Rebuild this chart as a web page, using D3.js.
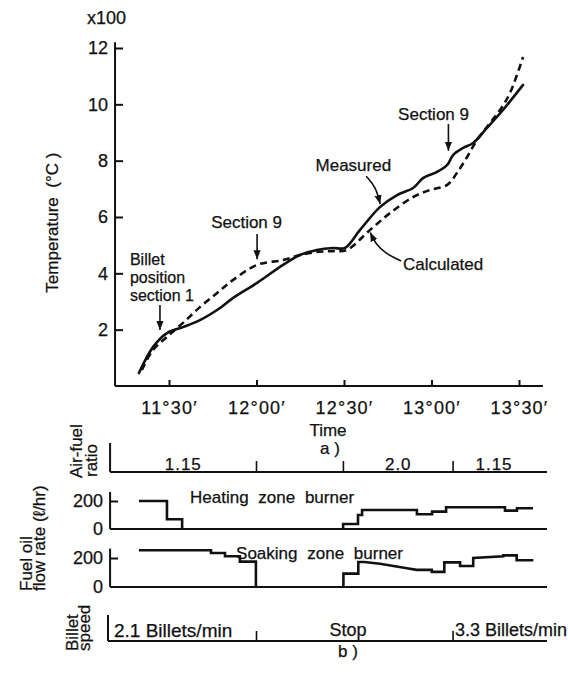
<!DOCTYPE html>
<html>
<head>
<meta charset="utf-8">
<script src="https://cdn.jsdelivr.net/npm/d3@7"></script>
<style>
  html, body { margin: 0; padding: 0; background: #fff; }
  svg { display: block; font-family: "Liberation Sans", Arial, sans-serif; }
  svg text { stroke: #111; stroke-width: 0.25px; }
</style>
</head>
<body>
<svg id="chart" width="568" height="673"></svg>
<script>
// Time is given in minutes after 11:00.
const timeTicks = [30, 60, 90, 120, 150];
const tempTicks = [2, 4, 6, 8, 10, 12];           // x100 °C

// Billet temperature (x100 °C)
const measured = [
  [19.7, 0.46], [24.5, 1.38], [29.3, 1.88], [34.8, 2.09], [40.6, 2.34], [47.5, 2.77],
  [51.9, 3.12], [60.2, 3.66], [69.1, 4.30], [74.9, 4.65], [80.7, 4.83], [86.2, 4.90],
  [90.3, 4.90], [95.5, 5.54], [102.3, 6.35], [108.2, 6.78], [113.7, 7.03], [117.1, 7.38],
  [121.9, 7.60], [125.4, 7.85], [127.4, 8.20], [130.8, 8.45], [134.3, 8.63], [139.0, 9.16],
  [144.5, 9.80], [151.4, 10.69]
];
const calculated = [
  [20.7, 0.57], [24.5, 1.28], [29.3, 1.74], [34.8, 2.24], [40.6, 2.80], [46.5, 3.30],
  [51.9, 3.76], [60.2, 4.30], [69.1, 4.47], [74.9, 4.65], [80.7, 4.76], [86.2, 4.79],
  [91.0, 4.83], [98.9, 5.54], [105.8, 6.14], [113.7, 6.71], [119.5, 6.96], [125.4, 7.14],
  [128.7, 7.56], [132.2, 8.13], [135.6, 8.73], [140.1, 9.34], [143.5, 9.80], [146.9, 10.40],
  [151.4, 11.68]
];

// Fuel oil flow rate (l/hr), stepwise
const heatingBefore = [[19.7, 200], [29.3, 200], [29.3, 70], [34.5, 70], [34.5, 0]];
const heatingAfter = [
  [89.7, 0], [89.7, 36], [94.8, 36], [94.8, 100], [96.2, 100], [96.2, 136], [115.0, 136],
  [115.0, 105], [120.2, 105], [120.2, 124], [125.0, 124], [125.0, 155], [145.2, 155],
  [145.2, 131], [149.3, 131], [149.3, 148], [154.8, 148]
];
const soakingBefore = [
  [19.7, 253], [44.4, 253], [44.4, 235], [49.2, 235], [49.2, 212], [54.3, 212],
  [54.3, 175], [59.8, 175], [59.8, 0]
];
const soakingAfter = [
  [89.8, 0], [89.8, 92], [94.9, 92], [94.9, 172], [97.0, 172], [102.3, 160], [107.5, 143],
  [112.1, 127], [114.9, 118], [120.1, 118], [120.1, 104], [124.4, 104], [124.4, 170],
  [129.8, 170], [129.8, 145], [134.3, 145], [134.3, 200], [144.6, 212], [144.6, 218],
  [149.2, 218], [149.2, 184], [154.9, 184]
];
const flowTicks = [0, 200];

// Air-fuel ratio periods and billet speed periods
const airFuelBreaks = [60, 89.8, 127.4];
const airFuelSpans = [[9.8, 60, "1.15"], [89.8, 127.4, "2.0"], [127.4, 159.6, "1.15"]];
const speedBreaks = [60, 127.4];

const ink = "#111";
const svg = d3.select("#chart");
svg.append("rect").attr("width", 568).attr("height", 673).attr("fill", "#fff");

const x = d3.scaleLinear().domain([30, 150]).range([169, 519]);
const y = d3.scaleLinear().domain([0, 12]).range([386, 48]);

const fmtTime = t => `${11 + Math.floor(t / 60)}°${String(t % 60).padStart(2, "0")}′`;

svg.append("defs").append("marker")
  .attr("id", "head").attr("viewBox", "0 0 10 8")
  .attr("refX", 10).attr("refY", 4)
  .attr("markerWidth", 9).attr("markerHeight", 8)
  .attr("markerUnits", "userSpaceOnUse").attr("orient", "auto")
  .append("path").attr("d", "M0,0L10,4L0,8Z").attr("fill", ink);

// ---------- a) temperature panel ----------
const panelA = svg.append("g");

panelA.append("line")
  .attr("x1", x(11.5)).attr("x2", x(11.5))
  .attr("y1", y(0)).attr("y2", y(12.2))
  .attr("stroke", ink).attr("stroke-width", 2);
panelA.append("line")
  .attr("x1", x(11.5)).attr("x2", x(158.2))
  .attr("y1", y(0)).attr("y2", y(0))
  .attr("stroke", ink).attr("stroke-width", 2);

const yAxis = panelA.append("g")
  .attr("transform", `translate(${x(11.5)},0)`)
  .call(d3.axisLeft(y).tickValues(tempTicks).tickSize(-8).tickPadding(7));
yAxis.select(".domain").remove();
yAxis.selectAll("line").attr("stroke", ink).attr("stroke-width", 2);
yAxis.selectAll("text").attr("font-size", 18).attr("fill", ink)
  .attr("font-family", "\"Liberation Sans\", Arial, sans-serif");

const xAxis = panelA.append("g")
  .attr("transform", `translate(0,${y(0)})`)
  .call(d3.axisBottom(x).tickValues(timeTicks).tickFormat(fmtTime).tickSize(-6).tickPadding(15));
xAxis.select(".domain").remove();
xAxis.selectAll("line").attr("stroke", ink).attr("stroke-width", 2);
xAxis.selectAll("text").attr("font-size", 18).attr("fill", ink).attr("letter-spacing", 1.2)
  .attr("font-family", "\"Liberation Sans\", Arial, sans-serif");

panelA.append("text").attr("x", 87).attr("y", 24).attr("font-size", 18).attr("fill", ink).text("x100");

panelA.append("text")
  .attr("transform", `translate(58,${y(5.8)}) rotate(-90)`)
  .attr("text-anchor", "middle").attr("font-size", 17).attr("fill", ink)
  .attr("xml:space", "preserve")
  .text("Temperature  (°C )");

panelA.append("text").attr("x", 328).attr("y", 436).attr("text-anchor", "middle")
  .attr("font-size", 17).attr("fill", ink).text("Time");
panelA.append("text").attr("x", 330).attr("y", 454).attr("text-anchor", "middle")
  .attr("font-size", 17).attr("fill", ink).attr("xml:space", "preserve").text("a )");

const curve = d3.line()
  .x(d => x(d[0])).y(d => y(d[1]))
  .curve(d3.curveCatmullRom.alpha(0.5));

panelA.append("path").datum(calculated).attr("d", curve)
  .attr("fill", "none").attr("stroke", ink).attr("stroke-width", 2.6)
  .attr("stroke-dasharray", "7,4.5");
panelA.append("path").datum(measured).attr("d", curve)
  .attr("fill", "none").attr("stroke", ink).attr("stroke-width", 2.6)
  .attr("stroke-linecap", "round");

// annotations (positions in time / temperature units)
const note = (t, v, s, anchor, size) => panelA.append("text")
  .attr("x", x(t)).attr("y", y(v)).attr("text-anchor", anchor || "start")
  .attr("font-size", size || 17).attr("fill", ink).text(s);
const arrow = pts => panelA.append("path")
  .attr("d", d3.line().x(d => x(d[0])).y(d => y(d[1])).curve(d3.curveBasis)(pts))
  .attr("fill", "none").attr("stroke", ink).attr("stroke-width", 1.6)
  .attr("marker-end", "url(#head)");

note(16.6, 4.29, "Billet", "start", 16);
note(16.6, 3.66, "position", "start", 16);
note(16.6, 3.02, "section 1", "start", 16);
arrow([[26.9, 2.88], [26.9, 1.99]]);

note(56.6, 5.61, "Section 9", "middle");
arrow([[60.2, 5.40], [60.2, 4.50]]);

note(120.7, 9.44, "Section 9", "middle");
arrow([[125.8, 9.30], [125.8, 8.35]]);

note(93.2, 7.63, "Measured", "middle");
arrow([[97.6, 7.45], [101.0, 7.05], [102.4, 6.46]]);

note(110.2, 4.12, "Calculated");
arrow([[109.6, 4.44], [104.2, 4.70], [100.8, 5.05], [99.0, 5.45]]);

// ---------- b) operating conditions ----------
const panelB = svg.append("g");
const lowX0 = 9.8, lowX1 = 159.6;

const baseLine = (yy, x0) => panelB.append("line")
  .attr("x1", x0).attr("x2", x(lowX1)).attr("y1", yy).attr("y2", yy)
  .attr("stroke", ink).attr("stroke-width", 2);
const vLine = (xx, y1, y2, w) => panelB.append("line")
  .attr("x1", xx).attr("x2", xx).attr("y1", y1).attr("y2", y2)
  .attr("stroke", ink).attr("stroke-width", w || 2);

// air-fuel ratio strip
const afBase = 472;
baseLine(afBase, x(lowX0));
vLine(x(lowX0), 443, afBase);
airFuelBreaks.forEach(t => vLine(x(t), afBase - 11, afBase, 1.6));
airFuelSpans.forEach(([a, b, s]) => panelB.append("text")
  .attr("x", x((a + b) / 2) - (b > 150 ? 6 : 0)).attr("y", afBase - 2)
  .attr("text-anchor", "middle").attr("font-size", 17).attr("letter-spacing", 1).attr("fill", ink).text(s));

// flow-rate strips
function flowPanel(base, top200, before, after, label, labelT, labelY) {
  const fy = d3.scaleLinear().domain([0, 200]).range([base, top200]);
  baseLine(base, x(lowX0));
  vLine(x(lowX0), fy(265), base);
  const ax = panelB.append("g").attr("transform", `translate(${x(lowX0)},0)`)
    .call(d3.axisLeft(fy).tickValues(flowTicks).tickSize(-8).tickPadding(7));
  ax.select(".domain").remove();
  ax.selectAll("line").attr("stroke", ink).attr("stroke-width", 2);
  ax.selectAll(".tick").filter(d => d === 0).select("line").remove();
  ax.selectAll("text").attr("font-size", 18).attr("fill", ink)
    .attr("font-family", "\"Liberation Sans\", Arial, sans-serif");
  const step = d3.line().x(d => x(d[0])).y(d => fy(d[1]));
  [before, after].forEach(seg => panelB.append("path").datum(seg).attr("d", step)
    .attr("fill", "none").attr("stroke", ink).attr("stroke-width", 2.6));
  panelB.append("text").attr("x", x(labelT)).attr("y", labelY).attr("font-size", 17)
    .attr("word-spacing", 5).attr("fill", ink).text(label);
}
flowPanel(529, 501, heatingBefore, heatingAfter, "Heating zone burner", 37.2, 503);
flowPanel(587, 558, soakingBefore, soakingAfter, "Soaking zone burner", 53.0, 559);

// billet speed strip
const spBase = 641;
panelB.append("line").attr("x1", 108).attr("x2", x(lowX1)).attr("y1", spBase).attr("y2", spBase)
  .attr("stroke", ink).attr("stroke-width", 2);
vLine(108, 615, spBase);
speedBreaks.forEach(t => vLine(x(t), spBase - 10, spBase, 1.6));
panelB.append("text").attr("x", 114).attr("y", spBase - 4).attr("font-size", 19).attr("fill", ink)
  .text("2.1 Billets/min");
panelB.append("text").attr("x", 348).attr("y", spBase - 5).attr("text-anchor", "middle")
  .attr("font-size", 18).attr("fill", ink).text("Stop");
panelB.append("text").attr("x", x(speedBreaks[1]) + 2).attr("y", spBase - 5).attr("font-size", 18)
  .attr("fill", ink).text("3.3 Billets/min");
panelB.append("text").attr("x", 348).attr("y", 657).attr("text-anchor", "middle")
  .attr("font-size", 17).attr("fill", ink).attr("xml:space", "preserve").text("b )");

// rotated strip titles
const vText = (xx, yy, s) => panelB.append("text")
  .attr("transform", `translate(${xx},${yy}) rotate(-90)`)
  .attr("font-size", 17).attr("fill", ink).text(s);
vText(82, 478, "Air-fuel");
vText(97, 477, "ratio");
vText(32, 591, "Fuel oil");
vText(45, 591, "flow rate (ℓ/hr)");
vText(78, 651, "Billet");
vText(90, 651, "speed");
</script>
</body>
</html>
